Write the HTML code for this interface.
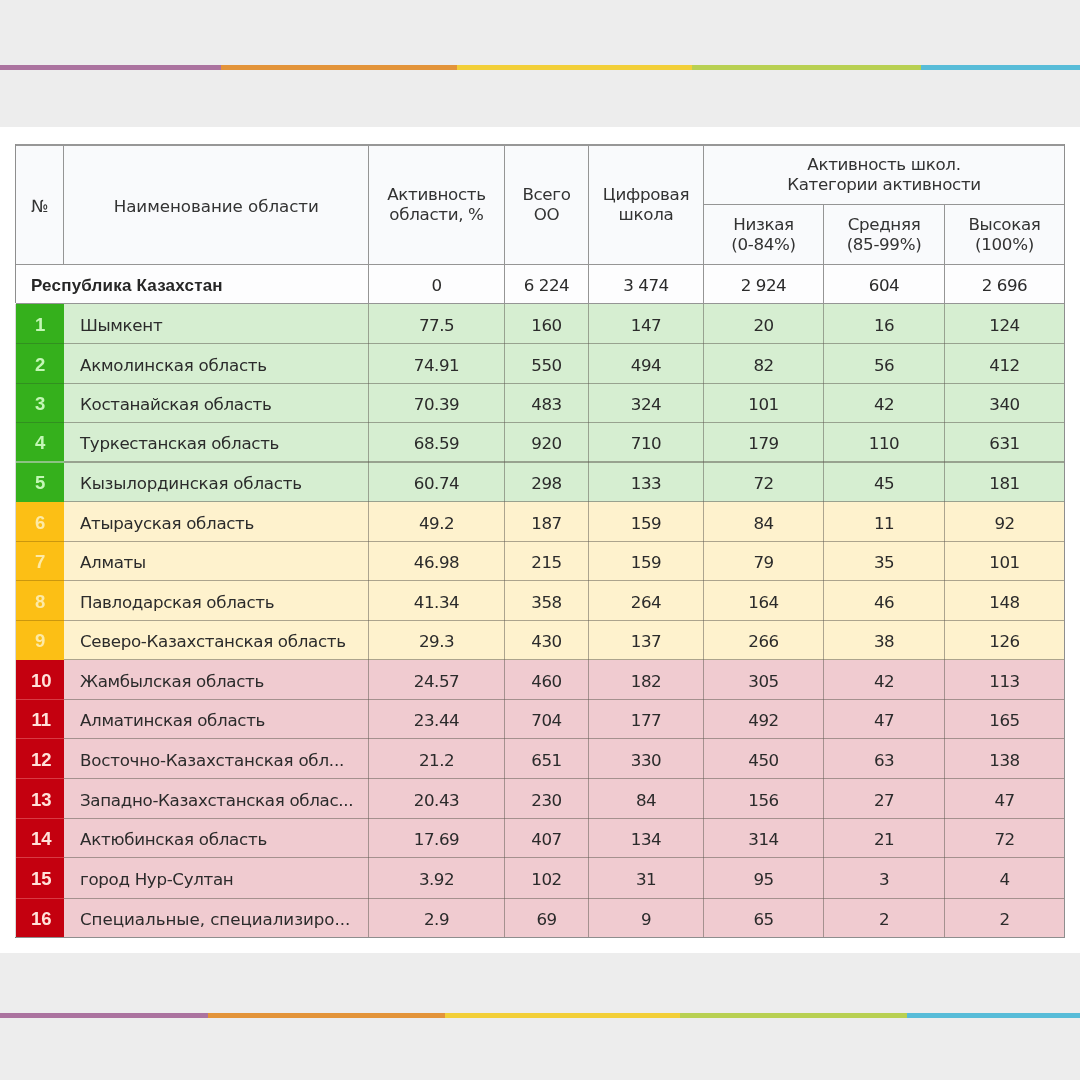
<!DOCTYPE html>
<html lang="ru"><head><meta charset="utf-8"><title>Активность школ</title><style>
html,body{margin:0;padding:0}
body{width:1080px;height:1080px;position:relative;overflow:hidden;background:#ededed;font-family:"DejaVu Sans","Liberation Sans",sans-serif;font-size:16.7px;letter-spacing:-0.33px;color:#2b2b2b}
.a{position:absolute}
.band{left:0;top:126.6px;width:1080px;height:826.4px;background:#fff}
.c{position:absolute;display:flex;align-items:center;justify-content:center;text-align:center;white-space:nowrap;line-height:20px}
.l{justify-content:flex-start;text-align:left}
.b{font-family:"Liberation Sans",sans-serif;font-weight:bold;font-size:17px;letter-spacing:0.2px}
.h{color:#333}
.n{letter-spacing:-0.5px}
.ln{position:absolute;background:#959595}
</style></head><body>
<div class="a" style="left:0;top:64.7px;width:1080px;height:4.9px;background:linear-gradient(90deg,#ab739f 0px 221.5px,#e3943a 221.5px 457px,#f2cf38 457px 692px,#b8d052 692px 920.7px,#58bcd8 920.7px 1080px)"></div>
<div class="a" style="left:0;top:1012.7px;width:1080px;height:4.9px;background:linear-gradient(90deg,#ab739f 0px 208.2px,#e3943a 208.2px 445.5px,#f2cf38 445.5px 680px,#b8d052 680px 907px,#58bcd8 907px 1080px)"></div>
<div class="a band"></div>
<div class="a " style="left:15.50px;top:143.60px;width:1049.00px;height:120.90px;background:#f9fafc"></div>
<div class="a " style="left:15.50px;top:264.50px;width:1049.00px;height:39.00px;background:#fdfdfe"></div>
<div class="a " style="left:15.50px;top:303.50px;width:48.50px;height:40.00px;background:#35b01c"></div>
<div class="a " style="left:64.00px;top:303.50px;width:1000.50px;height:40.00px;background:#d6eed1"></div>
<div class="a " style="left:15.50px;top:343.50px;width:48.50px;height:40.00px;background:#35b01c"></div>
<div class="a " style="left:64.00px;top:343.50px;width:1000.50px;height:40.00px;background:#d6eed1"></div>
<div class="a " style="left:15.50px;top:383.50px;width:48.50px;height:39.00px;background:#35b01c"></div>
<div class="a " style="left:64.00px;top:383.50px;width:1000.50px;height:39.00px;background:#d6eed1"></div>
<div class="a " style="left:15.50px;top:422.50px;width:48.50px;height:39.50px;background:#35b01c"></div>
<div class="a " style="left:64.00px;top:422.50px;width:1000.50px;height:39.50px;background:#d6eed1"></div>
<div class="a " style="left:15.50px;top:462.00px;width:48.50px;height:39.50px;background:#35b01c"></div>
<div class="a " style="left:64.00px;top:462.00px;width:1000.50px;height:39.50px;background:#d6eed1"></div>
<div class="a " style="left:15.50px;top:501.50px;width:48.50px;height:40.00px;background:#fcbf15"></div>
<div class="a " style="left:64.00px;top:501.50px;width:1000.50px;height:40.00px;background:#fef2cd"></div>
<div class="a " style="left:15.50px;top:541.50px;width:48.50px;height:39.00px;background:#fcbf15"></div>
<div class="a " style="left:64.00px;top:541.50px;width:1000.50px;height:39.00px;background:#fef2cd"></div>
<div class="a " style="left:15.50px;top:580.50px;width:48.50px;height:40.00px;background:#fcbf15"></div>
<div class="a " style="left:64.00px;top:580.50px;width:1000.50px;height:40.00px;background:#fef2cd"></div>
<div class="a " style="left:15.50px;top:620.50px;width:48.50px;height:39.00px;background:#fcbf15"></div>
<div class="a " style="left:64.00px;top:620.50px;width:1000.50px;height:39.00px;background:#fef2cd"></div>
<div class="a " style="left:15.50px;top:659.50px;width:48.50px;height:40.00px;background:#c4000f"></div>
<div class="a " style="left:64.00px;top:659.50px;width:1000.50px;height:40.00px;background:#f0cbd0"></div>
<div class="a " style="left:15.50px;top:699.50px;width:48.50px;height:39.00px;background:#c4000f"></div>
<div class="a " style="left:64.00px;top:699.50px;width:1000.50px;height:39.00px;background:#f0cbd0"></div>
<div class="a " style="left:15.50px;top:738.50px;width:48.50px;height:40.00px;background:#c4000f"></div>
<div class="a " style="left:64.00px;top:738.50px;width:1000.50px;height:40.00px;background:#f0cbd0"></div>
<div class="a " style="left:15.50px;top:778.50px;width:48.50px;height:40.00px;background:#c4000f"></div>
<div class="a " style="left:64.00px;top:778.50px;width:1000.50px;height:40.00px;background:#f0cbd0"></div>
<div class="a " style="left:15.50px;top:818.50px;width:48.50px;height:39.00px;background:#c4000f"></div>
<div class="a " style="left:64.00px;top:818.50px;width:1000.50px;height:39.00px;background:#f0cbd0"></div>
<div class="a " style="left:15.50px;top:857.50px;width:48.50px;height:41.00px;background:#c4000f"></div>
<div class="a " style="left:64.00px;top:857.50px;width:1000.50px;height:41.00px;background:#f0cbd0"></div>
<div class="a " style="left:15.50px;top:898.50px;width:48.50px;height:39.00px;background:#c4000f"></div>
<div class="a " style="left:64.00px;top:898.50px;width:1000.50px;height:39.00px;background:#f0cbd0"></div>
<div class="ln" style="left:64.00px;top:342.75px;width:1000.50px;height:1.5px;background:rgba(95,92,82,0.52)"></div>
<div class="ln" style="left:15.50px;top:342.75px;width:48.50px;height:1.5px;background:rgba(40,60,40,0.28)"></div>
<div class="ln" style="left:64.00px;top:382.75px;width:1000.50px;height:1.5px;background:rgba(95,92,82,0.52)"></div>
<div class="ln" style="left:15.50px;top:382.75px;width:48.50px;height:1.5px;background:rgba(40,60,40,0.28)"></div>
<div class="ln" style="left:64.00px;top:421.75px;width:1000.50px;height:1.5px;background:rgba(95,92,82,0.52)"></div>
<div class="ln" style="left:15.50px;top:421.75px;width:48.50px;height:1.5px;background:rgba(40,60,40,0.28)"></div>
<div class="ln" style="left:64.00px;top:460.85px;width:1000.50px;height:2.3px;background:rgba(95,92,82,0.52)"></div>
<div class="ln" style="left:15.50px;top:460.85px;width:48.50px;height:2.3px;background:rgba(170,200,165,0.75)"></div>
<div class="ln" style="left:64.00px;top:500.75px;width:1000.50px;height:1.5px;background:rgba(95,92,82,0.52)"></div>
<div class="ln" style="left:64.00px;top:540.75px;width:1000.50px;height:1.5px;background:rgba(95,92,82,0.52)"></div>
<div class="ln" style="left:15.50px;top:540.75px;width:48.50px;height:1.5px;background:rgba(90,60,0,0.3)"></div>
<div class="ln" style="left:64.00px;top:579.75px;width:1000.50px;height:1.5px;background:rgba(95,92,82,0.52)"></div>
<div class="ln" style="left:15.50px;top:579.75px;width:48.50px;height:1.5px;background:rgba(90,60,0,0.3)"></div>
<div class="ln" style="left:64.00px;top:619.75px;width:1000.50px;height:1.5px;background:rgba(95,92,82,0.52)"></div>
<div class="ln" style="left:15.50px;top:619.75px;width:48.50px;height:1.5px;background:rgba(90,60,0,0.3)"></div>
<div class="ln" style="left:64.00px;top:658.75px;width:1000.50px;height:1.5px;background:rgba(95,92,82,0.52)"></div>
<div class="ln" style="left:64.00px;top:698.75px;width:1000.50px;height:1.5px;background:rgba(95,92,82,0.52)"></div>
<div class="ln" style="left:15.50px;top:698.75px;width:48.50px;height:1.5px;background:rgba(255,170,170,0.35)"></div>
<div class="ln" style="left:64.00px;top:737.75px;width:1000.50px;height:1.5px;background:rgba(95,92,82,0.52)"></div>
<div class="ln" style="left:15.50px;top:737.75px;width:48.50px;height:1.5px;background:rgba(255,170,170,0.35)"></div>
<div class="ln" style="left:64.00px;top:777.75px;width:1000.50px;height:1.5px;background:rgba(95,92,82,0.52)"></div>
<div class="ln" style="left:15.50px;top:777.75px;width:48.50px;height:1.5px;background:rgba(255,170,170,0.35)"></div>
<div class="ln" style="left:64.00px;top:817.75px;width:1000.50px;height:1.5px;background:rgba(95,92,82,0.52)"></div>
<div class="ln" style="left:15.50px;top:817.75px;width:48.50px;height:1.5px;background:rgba(255,170,170,0.35)"></div>
<div class="ln" style="left:64.00px;top:856.75px;width:1000.50px;height:1.5px;background:rgba(95,92,82,0.52)"></div>
<div class="ln" style="left:15.50px;top:856.75px;width:48.50px;height:1.5px;background:rgba(255,170,170,0.35)"></div>
<div class="ln" style="left:64.00px;top:897.75px;width:1000.50px;height:1.5px;background:rgba(95,92,82,0.52)"></div>
<div class="ln" style="left:15.50px;top:897.75px;width:48.50px;height:1.5px;background:rgba(255,170,170,0.35)"></div>
<div class="ln" style="left:367.85px;top:143.60px;width:1.3px;height:159.90px;background:#959595"></div>
<div class="ln" style="left:367.75px;top:303.50px;width:1.5px;height:634.00px;background:rgba(95,92,85,0.52)"></div>
<div class="ln" style="left:503.85px;top:143.60px;width:1.3px;height:159.90px;background:#959595"></div>
<div class="ln" style="left:503.75px;top:303.50px;width:1.5px;height:634.00px;background:rgba(95,92,85,0.52)"></div>
<div class="ln" style="left:587.85px;top:143.60px;width:1.3px;height:159.90px;background:#959595"></div>
<div class="ln" style="left:587.75px;top:303.50px;width:1.5px;height:634.00px;background:rgba(95,92,85,0.52)"></div>
<div class="ln" style="left:702.85px;top:143.60px;width:1.3px;height:159.90px;background:#959595"></div>
<div class="ln" style="left:702.75px;top:303.50px;width:1.5px;height:634.00px;background:rgba(95,92,85,0.52)"></div>
<div class="ln" style="left:822.85px;top:204.50px;width:1.3px;height:99.00px;background:#959595"></div>
<div class="ln" style="left:822.75px;top:303.50px;width:1.5px;height:634.00px;background:rgba(95,92,85,0.52)"></div>
<div class="ln" style="left:943.85px;top:204.50px;width:1.3px;height:99.00px;background:#959595"></div>
<div class="ln" style="left:943.75px;top:303.50px;width:1.5px;height:634.00px;background:rgba(95,92,85,0.52)"></div>
<div class="ln" style="left:63.00px;top:143.60px;width:1px;height:120.90px"></div>
<div class="ln" style="left:703.50px;top:204.00px;width:361.00px;height:1px"></div>
<div class="ln" style="left:15.50px;top:264.00px;width:1049.00px;height:1px"></div>
<div class="ln" style="left:15.50px;top:303.00px;width:1049.00px;height:1px"></div>
<div class="ln" style="left:15.00px;top:143.70px;width:1050.00px;height:2.2px;background:#979797"></div>
<div class="ln" style="left:15.00px;top:937.00px;width:1050.00px;height:1px;background:#8e8e8e"></div>
<div class="ln" style="left:15.00px;top:143.60px;width:1px;height:159.90px;background:#8e8e8e"></div>
<div class="ln" style="left:15.00px;top:303.50px;width:1px;height:634.00px;background:rgba(0,0,0,0.15)"></div>
<div class="ln" style="left:1064.00px;top:143.60px;width:1px;height:793.90px;background:#8e8e8e"></div>
<div class="c h" style="left:15.50px;top:145.60px;width:48.50px;height:120.90px;">№</div>
<div class="c h" style="left:64.00px;top:145.60px;width:304.50px;height:120.90px;letter-spacing:-0.05px">Наименование области</div>
<div class="c h" style="left:368.50px;top:143.60px;width:136.00px;height:120.90px;">Активность<br>области, %</div>
<div class="c h" style="left:504.50px;top:143.60px;width:84.00px;height:120.90px;">Всего<br>ОО</div>
<div class="c h" style="left:588.50px;top:143.60px;width:115.00px;height:120.90px;">Цифровая<br>школа</div>
<div class="c h" style="left:703.50px;top:143.60px;width:361.00px;height:60.90px;">Активность школ.<br>Категории активности</div>
<div class="c h" style="left:703.50px;top:204.00px;width:120.00px;height:60.00px;">Низкая<br>(0-84%)</div>
<div class="c h" style="left:823.50px;top:204.00px;width:121.00px;height:60.00px;">Средняя<br>(85-99%)</div>
<div class="c h" style="left:944.50px;top:204.00px;width:120.00px;height:60.00px;">Высокая<br>(100%)</div>
<div class="c l b" style="left:31.00px;top:266.10px;width:337.50px;height:39.00px;color:#262626">Республика Казахстан</div>
<div class="c n" style="left:368.50px;top:265.50px;width:136.00px;height:39.00px;">0</div>
<div class="c n" style="left:504.50px;top:265.50px;width:84.00px;height:39.00px;">6 224</div>
<div class="c n" style="left:588.50px;top:265.50px;width:115.00px;height:39.00px;">3 474</div>
<div class="c n" style="left:703.50px;top:265.50px;width:120.00px;height:39.00px;">2 924</div>
<div class="c n" style="left:823.50px;top:265.50px;width:121.00px;height:39.00px;">604</div>
<div class="c n" style="left:944.50px;top:265.50px;width:120.00px;height:39.00px;">2 696</div>
<div class="c b" style="left:15.70px;top:304.50px;width:48.50px;height:40.00px;color:#c4f7b6;font-size:17.5px;letter-spacing:0;transform:scaleX(1.06)">1</div>
<div class="c l" style="left:80.00px;top:304.50px;width:288.50px;height:40.00px;">Шымкент</div>
<div class="c n" style="left:368.50px;top:304.50px;width:136.00px;height:40.00px;">77.5</div>
<div class="c n" style="left:504.50px;top:304.50px;width:84.00px;height:40.00px;">160</div>
<div class="c n" style="left:588.50px;top:304.50px;width:115.00px;height:40.00px;">147</div>
<div class="c n" style="left:703.50px;top:304.50px;width:120.00px;height:40.00px;">20</div>
<div class="c n" style="left:823.50px;top:304.50px;width:121.00px;height:40.00px;">16</div>
<div class="c n" style="left:944.50px;top:304.50px;width:120.00px;height:40.00px;">124</div>
<div class="c b" style="left:15.70px;top:344.50px;width:48.50px;height:40.00px;color:#c4f7b6;font-size:17.5px;letter-spacing:0;transform:scaleX(1.06)">2</div>
<div class="c l" style="left:80.00px;top:344.50px;width:288.50px;height:40.00px;letter-spacing:-0.25px">Акмолинская область</div>
<div class="c n" style="left:368.50px;top:344.50px;width:136.00px;height:40.00px;">74.91</div>
<div class="c n" style="left:504.50px;top:344.50px;width:84.00px;height:40.00px;">550</div>
<div class="c n" style="left:588.50px;top:344.50px;width:115.00px;height:40.00px;">494</div>
<div class="c n" style="left:703.50px;top:344.50px;width:120.00px;height:40.00px;">82</div>
<div class="c n" style="left:823.50px;top:344.50px;width:121.00px;height:40.00px;">56</div>
<div class="c n" style="left:944.50px;top:344.50px;width:120.00px;height:40.00px;">412</div>
<div class="c b" style="left:15.70px;top:384.50px;width:48.50px;height:39.00px;color:#c4f7b6;font-size:17.5px;letter-spacing:0;transform:scaleX(1.06)">3</div>
<div class="c l" style="left:80.00px;top:384.50px;width:288.50px;height:39.00px;">Костанайская область</div>
<div class="c n" style="left:368.50px;top:384.50px;width:136.00px;height:39.00px;">70.39</div>
<div class="c n" style="left:504.50px;top:384.50px;width:84.00px;height:39.00px;">483</div>
<div class="c n" style="left:588.50px;top:384.50px;width:115.00px;height:39.00px;">324</div>
<div class="c n" style="left:703.50px;top:384.50px;width:120.00px;height:39.00px;">101</div>
<div class="c n" style="left:823.50px;top:384.50px;width:121.00px;height:39.00px;">42</div>
<div class="c n" style="left:944.50px;top:384.50px;width:120.00px;height:39.00px;">340</div>
<div class="c b" style="left:15.70px;top:423.50px;width:48.50px;height:39.50px;color:#c4f7b6;font-size:17.5px;letter-spacing:0;transform:scaleX(1.06)">4</div>
<div class="c l" style="left:80.00px;top:423.50px;width:288.50px;height:39.50px;">Туркестанская область</div>
<div class="c n" style="left:368.50px;top:423.50px;width:136.00px;height:39.50px;">68.59</div>
<div class="c n" style="left:504.50px;top:423.50px;width:84.00px;height:39.50px;">920</div>
<div class="c n" style="left:588.50px;top:423.50px;width:115.00px;height:39.50px;">710</div>
<div class="c n" style="left:703.50px;top:423.50px;width:120.00px;height:39.50px;">179</div>
<div class="c n" style="left:823.50px;top:423.50px;width:121.00px;height:39.50px;">110</div>
<div class="c n" style="left:944.50px;top:423.50px;width:120.00px;height:39.50px;">631</div>
<div class="c b" style="left:15.70px;top:463.00px;width:48.50px;height:39.50px;color:#c4f7b6;font-size:17.5px;letter-spacing:0;transform:scaleX(1.06)">5</div>
<div class="c l" style="left:80.00px;top:463.00px;width:288.50px;height:39.50px;letter-spacing:-0.22px">Кызылординская область</div>
<div class="c n" style="left:368.50px;top:463.00px;width:136.00px;height:39.50px;">60.74</div>
<div class="c n" style="left:504.50px;top:463.00px;width:84.00px;height:39.50px;">298</div>
<div class="c n" style="left:588.50px;top:463.00px;width:115.00px;height:39.50px;">133</div>
<div class="c n" style="left:703.50px;top:463.00px;width:120.00px;height:39.50px;">72</div>
<div class="c n" style="left:823.50px;top:463.00px;width:121.00px;height:39.50px;">45</div>
<div class="c n" style="left:944.50px;top:463.00px;width:120.00px;height:39.50px;">181</div>
<div class="c b" style="left:15.70px;top:502.50px;width:48.50px;height:40.00px;color:#fdeaa6;font-size:17.5px;letter-spacing:0;transform:scaleX(1.06)">6</div>
<div class="c l" style="left:80.00px;top:502.50px;width:288.50px;height:40.00px;">Атырауская область</div>
<div class="c n" style="left:368.50px;top:502.50px;width:136.00px;height:40.00px;">49.2</div>
<div class="c n" style="left:504.50px;top:502.50px;width:84.00px;height:40.00px;">187</div>
<div class="c n" style="left:588.50px;top:502.50px;width:115.00px;height:40.00px;">159</div>
<div class="c n" style="left:703.50px;top:502.50px;width:120.00px;height:40.00px;">84</div>
<div class="c n" style="left:823.50px;top:502.50px;width:121.00px;height:40.00px;">11</div>
<div class="c n" style="left:944.50px;top:502.50px;width:120.00px;height:40.00px;">92</div>
<div class="c b" style="left:15.70px;top:542.50px;width:48.50px;height:39.00px;color:#fdeaa6;font-size:17.5px;letter-spacing:0;transform:scaleX(1.06)">7</div>
<div class="c l" style="left:80.00px;top:542.50px;width:288.50px;height:39.00px;">Алматы</div>
<div class="c n" style="left:368.50px;top:542.50px;width:136.00px;height:39.00px;">46.98</div>
<div class="c n" style="left:504.50px;top:542.50px;width:84.00px;height:39.00px;">215</div>
<div class="c n" style="left:588.50px;top:542.50px;width:115.00px;height:39.00px;">159</div>
<div class="c n" style="left:703.50px;top:542.50px;width:120.00px;height:39.00px;">79</div>
<div class="c n" style="left:823.50px;top:542.50px;width:121.00px;height:39.00px;">35</div>
<div class="c n" style="left:944.50px;top:542.50px;width:120.00px;height:39.00px;">101</div>
<div class="c b" style="left:15.70px;top:581.50px;width:48.50px;height:40.00px;color:#fdeaa6;font-size:17.5px;letter-spacing:0;transform:scaleX(1.06)">8</div>
<div class="c l" style="left:80.00px;top:581.50px;width:288.50px;height:40.00px;">Павлодарская область</div>
<div class="c n" style="left:368.50px;top:581.50px;width:136.00px;height:40.00px;">41.34</div>
<div class="c n" style="left:504.50px;top:581.50px;width:84.00px;height:40.00px;">358</div>
<div class="c n" style="left:588.50px;top:581.50px;width:115.00px;height:40.00px;">264</div>
<div class="c n" style="left:703.50px;top:581.50px;width:120.00px;height:40.00px;">164</div>
<div class="c n" style="left:823.50px;top:581.50px;width:121.00px;height:40.00px;">46</div>
<div class="c n" style="left:944.50px;top:581.50px;width:120.00px;height:40.00px;">148</div>
<div class="c b" style="left:15.70px;top:621.50px;width:48.50px;height:39.00px;color:#fdeaa6;font-size:17.5px;letter-spacing:0;transform:scaleX(1.06)">9</div>
<div class="c l" style="left:80.00px;top:621.50px;width:288.50px;height:39.00px;">Северо-Казахстанская область</div>
<div class="c n" style="left:368.50px;top:621.50px;width:136.00px;height:39.00px;">29.3</div>
<div class="c n" style="left:504.50px;top:621.50px;width:84.00px;height:39.00px;">430</div>
<div class="c n" style="left:588.50px;top:621.50px;width:115.00px;height:39.00px;">137</div>
<div class="c n" style="left:703.50px;top:621.50px;width:120.00px;height:39.00px;">266</div>
<div class="c n" style="left:823.50px;top:621.50px;width:121.00px;height:39.00px;">38</div>
<div class="c n" style="left:944.50px;top:621.50px;width:120.00px;height:39.00px;">126</div>
<div class="c b" style="left:16.70px;top:660.50px;width:48.50px;height:40.00px;color:#ffe2da;font-size:17.5px;letter-spacing:0;transform:scaleX(1.06)">10</div>
<div class="c l" style="left:80.00px;top:660.50px;width:288.50px;height:40.00px;">Жамбылская область</div>
<div class="c n" style="left:368.50px;top:660.50px;width:136.00px;height:40.00px;">24.57</div>
<div class="c n" style="left:504.50px;top:660.50px;width:84.00px;height:40.00px;">460</div>
<div class="c n" style="left:588.50px;top:660.50px;width:115.00px;height:40.00px;">182</div>
<div class="c n" style="left:703.50px;top:660.50px;width:120.00px;height:40.00px;">305</div>
<div class="c n" style="left:823.50px;top:660.50px;width:121.00px;height:40.00px;">42</div>
<div class="c n" style="left:944.50px;top:660.50px;width:120.00px;height:40.00px;">113</div>
<div class="c b" style="left:16.70px;top:700.50px;width:48.50px;height:39.00px;color:#ffe2da;font-size:17.5px;letter-spacing:0;transform:scaleX(1.06)">11</div>
<div class="c l" style="left:80.00px;top:700.50px;width:288.50px;height:39.00px;">Алматинская область</div>
<div class="c n" style="left:368.50px;top:700.50px;width:136.00px;height:39.00px;">23.44</div>
<div class="c n" style="left:504.50px;top:700.50px;width:84.00px;height:39.00px;">704</div>
<div class="c n" style="left:588.50px;top:700.50px;width:115.00px;height:39.00px;">177</div>
<div class="c n" style="left:703.50px;top:700.50px;width:120.00px;height:39.00px;">492</div>
<div class="c n" style="left:823.50px;top:700.50px;width:121.00px;height:39.00px;">47</div>
<div class="c n" style="left:944.50px;top:700.50px;width:120.00px;height:39.00px;">165</div>
<div class="c b" style="left:16.70px;top:739.50px;width:48.50px;height:40.00px;color:#ffe2da;font-size:17.5px;letter-spacing:0;transform:scaleX(1.06)">12</div>
<div class="c l" style="left:80.00px;top:739.50px;width:288.50px;height:40.00px;letter-spacing:-0.23px">Восточно-Казахстанская обл...</div>
<div class="c n" style="left:368.50px;top:739.50px;width:136.00px;height:40.00px;">21.2</div>
<div class="c n" style="left:504.50px;top:739.50px;width:84.00px;height:40.00px;">651</div>
<div class="c n" style="left:588.50px;top:739.50px;width:115.00px;height:40.00px;">330</div>
<div class="c n" style="left:703.50px;top:739.50px;width:120.00px;height:40.00px;">450</div>
<div class="c n" style="left:823.50px;top:739.50px;width:121.00px;height:40.00px;">63</div>
<div class="c n" style="left:944.50px;top:739.50px;width:120.00px;height:40.00px;">138</div>
<div class="c b" style="left:16.70px;top:779.50px;width:48.50px;height:40.00px;color:#ffe2da;font-size:17.5px;letter-spacing:0;transform:scaleX(1.06)">13</div>
<div class="c l" style="left:80.00px;top:779.50px;width:288.50px;height:40.00px;">Западно-Казахстанская облас...</div>
<div class="c n" style="left:368.50px;top:779.50px;width:136.00px;height:40.00px;">20.43</div>
<div class="c n" style="left:504.50px;top:779.50px;width:84.00px;height:40.00px;">230</div>
<div class="c n" style="left:588.50px;top:779.50px;width:115.00px;height:40.00px;">84</div>
<div class="c n" style="left:703.50px;top:779.50px;width:120.00px;height:40.00px;">156</div>
<div class="c n" style="left:823.50px;top:779.50px;width:121.00px;height:40.00px;">27</div>
<div class="c n" style="left:944.50px;top:779.50px;width:120.00px;height:40.00px;">47</div>
<div class="c b" style="left:16.70px;top:819.50px;width:48.50px;height:39.00px;color:#ffe2da;font-size:17.5px;letter-spacing:0;transform:scaleX(1.06)">14</div>
<div class="c l" style="left:80.00px;top:819.50px;width:288.50px;height:39.00px;letter-spacing:-0.28px">Актюбинская область</div>
<div class="c n" style="left:368.50px;top:819.50px;width:136.00px;height:39.00px;">17.69</div>
<div class="c n" style="left:504.50px;top:819.50px;width:84.00px;height:39.00px;">407</div>
<div class="c n" style="left:588.50px;top:819.50px;width:115.00px;height:39.00px;">134</div>
<div class="c n" style="left:703.50px;top:819.50px;width:120.00px;height:39.00px;">314</div>
<div class="c n" style="left:823.50px;top:819.50px;width:121.00px;height:39.00px;">21</div>
<div class="c n" style="left:944.50px;top:819.50px;width:120.00px;height:39.00px;">72</div>
<div class="c b" style="left:16.70px;top:858.50px;width:48.50px;height:41.00px;color:#ffe2da;font-size:17.5px;letter-spacing:0;transform:scaleX(1.06)">15</div>
<div class="c l" style="left:80.00px;top:858.50px;width:288.50px;height:41.00px;">город Нур-Султан</div>
<div class="c n" style="left:368.50px;top:858.50px;width:136.00px;height:41.00px;">3.92</div>
<div class="c n" style="left:504.50px;top:858.50px;width:84.00px;height:41.00px;">102</div>
<div class="c n" style="left:588.50px;top:858.50px;width:115.00px;height:41.00px;">31</div>
<div class="c n" style="left:703.50px;top:858.50px;width:120.00px;height:41.00px;">95</div>
<div class="c n" style="left:823.50px;top:858.50px;width:121.00px;height:41.00px;">3</div>
<div class="c n" style="left:944.50px;top:858.50px;width:120.00px;height:41.00px;">4</div>
<div class="c b" style="left:16.70px;top:899.50px;width:48.50px;height:39.00px;color:#ffe2da;font-size:17.5px;letter-spacing:0;transform:scaleX(1.06)">16</div>
<div class="c l" style="left:80.00px;top:899.50px;width:288.50px;height:39.00px;letter-spacing:-0.04px">Специальные, специализиро...</div>
<div class="c n" style="left:368.50px;top:899.50px;width:136.00px;height:39.00px;">2.9</div>
<div class="c n" style="left:504.50px;top:899.50px;width:84.00px;height:39.00px;">69</div>
<div class="c n" style="left:588.50px;top:899.50px;width:115.00px;height:39.00px;">9</div>
<div class="c n" style="left:703.50px;top:899.50px;width:120.00px;height:39.00px;">65</div>
<div class="c n" style="left:823.50px;top:899.50px;width:121.00px;height:39.00px;">2</div>
<div class="c n" style="left:944.50px;top:899.50px;width:120.00px;height:39.00px;">2</div>
</body></html>
